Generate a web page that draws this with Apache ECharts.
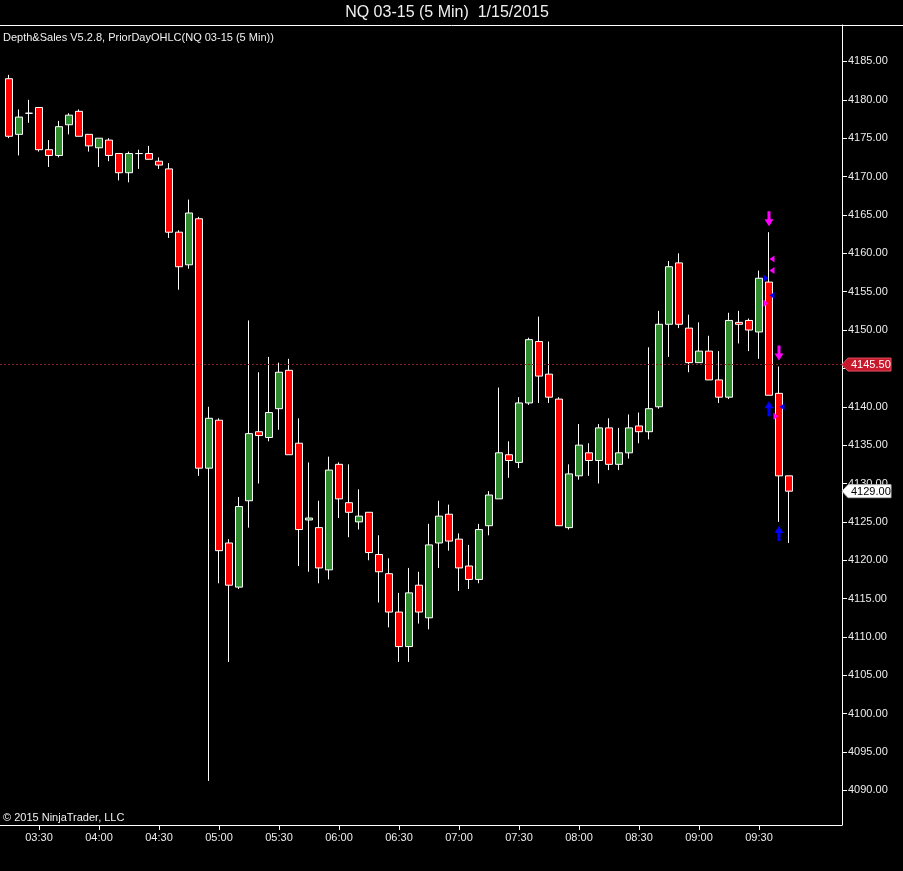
<!DOCTYPE html>
<html><head><meta charset="utf-8">
<script src="https://cdn.jsdelivr.net/npm/echarts@6/dist/echarts.min.js"></script>
<style>html,body{margin:0;padding:0;background:#000;} #c{width:903px;height:871px;}</style>
</head><body><div id="c"></div>
<script>
// ---- data ----
const times = ['03:15','03:20','03:25','03:30','03:35','03:40','03:45','03:50','03:55','04:00',
 '04:05','04:10','04:15','04:20','04:25','04:30','04:35','04:40','04:45','04:50',
 '04:55','05:00','05:05','05:10','05:15','05:20','05:25','05:30','05:35','05:40',
 '05:45','05:50','05:55','06:00','06:05','06:10','06:15','06:20','06:25','06:30',
 '06:35','06:40','06:45','06:50','06:55','07:00','07:05','07:10','07:15','07:20',
 '07:25','07:30','07:35','07:40','07:45','07:50','07:55','08:00','08:05','08:10',
 '08:15','08:20','08:25','08:30','08:35','08:40','08:45','08:50','08:55','09:00',
 '09:05','09:10','09:15','09:20','09:25','09:30','09:35','09:40','09:45'];
const opens = [4182.75,4175.5,4178.25,4179,4173.5,4172.75,4176.75,4178.5,4175.5,4173.75,
 4174.75,4173,4170.5,4173,4173,4172,4171,4162.75,4158.5,4164.5,
 4132,4138.25,4122.25,4116.5,4127.75,4136.75,4136,4139.75,4144.75,4135.25,
 4125.25,4124.25,4118.75,4132.5,4127.5,4125,4126.25,4120.75,4118.25,4113.25,
 4108.75,4116.75,4112.5,4122.25,4126,4122.75,4119.25,4117.5,4124.5,4128,
 4133.75,4132.75,4140.5,4148.5,4144.25,4141,4124.25,4131,4134,4133,
 4137.25,4132.5,4134,4137.5,4136.75,4140,4150.75,4158.75,4150.25,4145.75,
 4147.25,4143.5,4141.25,4151,4151.25,4149.75,4156.25,4141.75,4131];
const highs = [4183.25,4178.75,4180,4179,4174.75,4177.25,4178.25,4178.75,4175.5,4175,
 4175,4173,4173.25,4173.5,4174,4172.5,4171.75,4163,4167,4164.75,
 4140,4138.5,4122.75,4128.25,4151.25,4144.5,4146.5,4145.75,4146.25,4138.5,
 4132.75,4127.75,4133.5,4132.75,4132.5,4129.25,4126.25,4123.25,4120.25,4115.75,
 4119,4118.5,4124.75,4127.75,4127.25,4123.5,4122,4124.75,4129,4142.5,
 4135.5,4141.25,4149,4151.75,4148.5,4141.25,4132.5,4137.75,4135.25,4137.75,
 4138.5,4137.25,4139,4139.25,4147.75,4152.5,4159,4160,4152,4151,
 4149.25,4147.25,4152.25,4152.5,4151.5,4157.75,4162.75,4145.25,4131];
const lows = [4175,4172.75,4177,4173.25,4171.25,4172.5,4175.5,4175.25,4173.25,4171.25,
 4172,4169.5,4169.25,4171,4172.25,4171,4162,4155.25,4158,4131,
 4091.25,4117,4106.75,4116.25,4124.25,4130,4135.5,4137,4133.75,4119.25,
 4118.5,4117,4117.5,4125.5,4123,4124,4120,4114.5,4111.25,4106.75,
 4106.75,4111.75,4111,4119,4121.25,4116,4116.25,4117,4123.25,4128,
 4130.75,4132,4140.25,4140.5,4140.5,4124.5,4124,4130.5,4131,4130,
 4131.75,4131.75,4133.25,4135.25,4135.75,4139.75,4146.5,4150.25,4144.5,4145.75,
 4143.5,4140.5,4141,4148.25,4147.25,4146.25,4141.5,4125,4122.25];
const closes = [4175.25,4177.75,4178.25,4173.5,4172.75,4176.5,4178,4175.25,4174,4175,
 4172.75,4170.5,4173,4173,4172.25,4171.5,4162.75,4158.25,4165.25,4132,
 4138.5,4121.25,4116.75,4127,4136.5,4136.25,4139.25,4144.5,4133.75,4124,
 4125.5,4119,4131.75,4128,4126.25,4125.75,4121,4118.5,4113.25,4108.75,
 4115.75,4113.25,4122,4125.75,4122.5,4119,4117.5,4124,4128.5,4134,
 4133,4140.5,4148.75,4144,4141.25,4124.5,4131.25,4135,4133,4137.25,
 4132.5,4134,4137.25,4136.75,4139.75,4150.75,4158.25,4150.75,4145.75,4147.25,
 4143.5,4141.25,4151.25,4150.75,4150,4156.75,4141.5,4131,4129];
const priceTicks = [4090,4095,4100,4105,4110,4115,4120,4125,4130,4135,4140,4145,
 4150,4155,4160,4165,4170,4175,4180,4185];
const timeTicks = ['03:30','04:00','04:30','05:00','05:30','06:00','06:30','07:00',
 '07:30','08:00','08:30','09:00','09:30'];
const priorDayLevel = 4145.5;
const lastPrice = 4129.0;
const sellArrows = [['09:35',4164.5],['09:40',4147]];
const buyArrows = [['09:35',4139.75],['09:40',4123.5]];
const magentaLeftTris = [['09:35',4159.25],['09:35',4157.75]];
const magentaRightTris = [['09:35',4153.5],['09:40',4138.75]];
const blueLeftTris = [['09:35',4154.5],['09:40',4140]];
const blueRightTris = [['09:35',4156.75]];
const titleText = 'NQ 03-15 (5 Min)  1/15/2015';
const legendText = 'Depth&Sales V5.2.8, PriorDayOHLC(NQ 03-15 (5 Min))';
const copyrightText = '\u00A9 2015 NinjaTrader, LLC';

// ---- build ----
function toMin(t){ const p=t.split(':'); return (+p[0])*60 + (+p[1]); }
const candleData = times.map((t,i)=>[toMin(t), opens[i], closes[i], lows[i], highs[i]]);
const pts = arr => arr.map(d=>[toMin(d[0]), d[1]]);
const FONT = 'Liberation Sans, Arial, sans-serif';
const TXT = '#ececec';

const chart = echarts.init(document.getElementById('c'), null, {renderer:'canvas'});
const downPath = 'path://M3,0 L6,0 L6,8 L9,8 L4.5,15 L0,8 L3,8 Z';
const upPath = 'path://M4.5,0 L9,7 L6,7 L6,15 L3,15 L3,7 L0,7 Z';
const MAG = '#ff00ff', BLU = '#0000ff';
const option = {
  backgroundColor:'#000',
  animation:false,
  grid:{left:0, right:61, top:25, bottom:46},
  xAxis:{
    type:'value', min:190.5, max:611.5,
    axisLine:{show:true, lineStyle:{color:'#ffffff', width:1}},
    axisTick:{show:true, length:5, customValues: timeTicks.map(toMin), lineStyle:{color:'#ffffff'}},
    axisLabel:{show:true, customValues: timeTicks.map(toMin), color:TXT, fontSize:11, fontFamily:FONT, margin:7,
      formatter: v => { const h=Math.floor(v/60), m=v%60; return (h<10?'0':'')+h+':'+(m<10?'0':'')+m; }},
    splitLine:{show:false}
  },
  yAxis:{
    type:'value', position:'right', min:4085.5, max:4189.75, scale:true,
    axisLine:{show:true, lineStyle:{color:'#ffffff', width:1}},
    axisTick:{show:true, length:5, customValues: priceTicks, lineStyle:{color:'#ffffff'}},
    axisLabel:{show:true, customValues: priceTicks, color:TXT, fontSize:11, fontFamily:FONT, margin:6,
      padding:[2,0,0,0], formatter: v => v.toFixed(2)},
    splitLine:{show:false}
  },
  series:[
    {
      type:'candlestick', data:candleData, encode:{x:0, y:[1,2,3,4]},
      barWidth:7,
      itemStyle:{color:'#2e8b2e', color0:'#ff0000', borderColor:'#ffffff', borderColor0:'#ffffff',
        borderColorDoji:'#ffffff', borderWidth:1},
      markLine:{silent:true, symbol:['none','none'], label:{show:false},
        lineStyle:{color:'#8c2323', type:[2,2], width:1},
        data:[{yAxis:priorDayLevel}]}
    },
    {type:'scatter', data:pts(sellArrows), symbol:downPath, symbolSize:[9,15], itemStyle:{color:MAG, opacity:1}, z:5},
    {type:'scatter', data:pts(buyArrows), symbol:upPath, symbolSize:[9,15], itemStyle:{color:BLU, opacity:1}, z:5},
    {type:'scatter', data:pts(magentaLeftTris), symbol:'triangle', symbolSize:[7,5], symbolRotate:90, symbolOffset:[3,0], itemStyle:{color:MAG, opacity:1}, z:5},
    {type:'scatter', data:pts(magentaRightTris), symbol:'triangle', symbolSize:[7,5], symbolRotate:-90, symbolOffset:[-3,0], itemStyle:{color:MAG, opacity:1}, z:5},
    {type:'scatter', data:pts(blueLeftTris), symbol:'triangle', symbolSize:[7,5], symbolRotate:90, symbolOffset:[3,0], itemStyle:{color:BLU, opacity:1}, z:5},
    {type:'scatter', data:pts(blueRightTris), symbol:'triangle', symbolSize:[7,5], symbolRotate:-90, symbolOffset:[-3,0], itemStyle:{color:BLU, opacity:1}, z:5}
  ]
};
chart.setOption(option);

function tag(y, fill, textColor, txt, id){
  return [
    {type:'polygon', id:id+'p', z:100, shape:{points:[[842,y],[848,y-6.5],[891,y-6.5],[891,y+6.5],[848,y+6.5]]},
      style:{fill:fill, stroke:fill==='#ffffff'?'#bbbbbb':'#e05060', lineWidth:1}},
    {type:'text', id:id+'t', z:101, x:851, y:y+0.5, style:{text:txt, fill:textColor, font:'11px '+FONT, textVerticalAlign:'middle', verticalAlign:'middle'}}
  ];
}
const yPrior = chart.convertToPixel({yAxisIndex:0}, priorDayLevel);
const yLast = chart.convertToPixel({yAxisIndex:0}, lastPrice);
chart.setOption({graphic: [
  {type:'line', id:'topline', shape:{x1:0,y1:25.5,x2:903,y2:25.5}, style:{stroke:'#ffffff', lineWidth:1}},
  {type:'text', id:'title', x:447, y:13, style:{text:titleText, fill:'#f0f0f0', font:'16px '+FONT, align:'center', textAlign:'center', verticalAlign:'middle', textVerticalAlign:'middle'}},
  {type:'text', id:'legend', x:3, y:38, style:{text:legendText, fill:'#f0f0f0', font:'11px '+FONT, verticalAlign:'middle', textVerticalAlign:'middle'}},
  {type:'text', id:'copy', x:3, y:818, style:{text:copyrightText, fill:'#f0f0f0', font:'11px '+FONT, verticalAlign:'middle', textVerticalAlign:'middle'}},
  ...tag(yPrior, '#c8182c', '#ffffff', priorDayLevel.toFixed(2), 'tp'),
  ...tag(yLast, '#ffffff', '#000000', lastPrice.toFixed(2), 'tl')
]});
</script>
</body></html>
